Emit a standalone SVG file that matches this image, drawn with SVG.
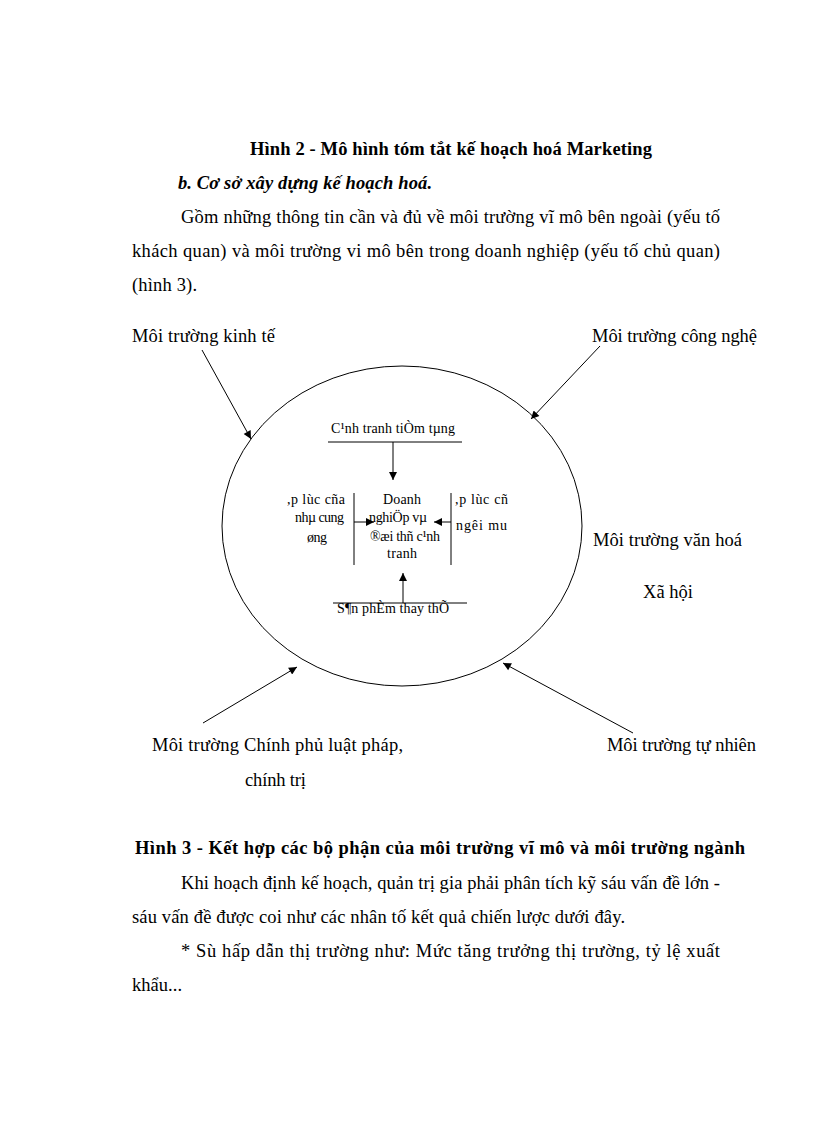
<svg xmlns="http://www.w3.org/2000/svg" width="816" height="1123" viewBox="0 0 816 1123">
<defs>
<marker id="ah" viewBox="0 0 10 10" refX="10" refY="5" markerWidth="9" markerHeight="8" markerUnits="userSpaceOnUse" orient="auto">
<path d="M0,0 L10,5 L0,10 z" fill="#000"/>
</marker>
<style>
.t{font-family:"Liberation Serif","Times New Roman",serif;font-size:18.5px;fill:#000}
.b{font-weight:bold}
.bi{font-weight:bold;font-style:italic}
.s{font-family:"Liberation Serif","Times New Roman",serif;font-size:14px;fill:#000}
.ln{stroke:#000;stroke-width:1;fill:none}
</style>
</defs>
<rect width="816" height="1123" fill="#fff"/>
<g id="heading">
<text class="t b" x="250" y="155" textLength="402">Hình 2 - Mô hình tóm tắt kế hoạch hoá Marketing</text>
<text class="t bi" x="178" y="189" textLength="254">b. Cơ sở xây dựng kế hoạch hoá.</text>
<text class="t" x="181" y="223" textLength="539">Gồm những thông tin cần và đủ về môi trường vĩ mô bên ngoài (yếu tố</text>
<text class="t" x="132" y="257" textLength="588">khách quan) và môi trường vi mô bên trong doanh nghiệp (yếu tố chủ quan)</text>
<text class="t" x="132" y="291" textLength="65">(hình 3).</text>
</g>
<g id="ellipse-node">
<ellipse class="ln" cx="402" cy="526" rx="180" ry="160"/>
</g>
<g id="env-kinhte"><text class="t" x="132" y="342" textLength="143">Môi trường kinh tế</text></g>
<g id="env-congnghe"><text class="t" x="592" y="342" textLength="165">Môi trường công nghệ</text></g>
<g id="env-vanhoa">
<text class="t" x="593" y="546" textLength="149">Môi trường văn hoá</text>
<text class="t" x="643" y="598" textLength="50">Xã hội</text>
</g>
<g id="env-chinhphu">
<text class="t" x="152" y="751" textLength="251">Môi trường Chính phủ luật pháp,</text>
<text class="t" x="245" y="786" textLength="61">chính trị</text>
</g>
<g id="env-tunhien"><text class="t" x="607" y="751" textLength="149">Môi trường tự nhiên</text></g>
<g id="inner-top">
<text class="s" x="331" y="433" textLength="124">C¹nh tranh tiÒm tµng</text>
<line class="ln" x1="328" y1="442" x2="462" y2="442"/>
</g>
<g id="inner-left">
<text class="s" x="287" y="504" textLength="58">,p lùc cña</text>
<text class="s" x="295" y="522" textLength="49">nhµ cung</text>
<text class="s" x="307" y="542" textLength="20">øng</text>
<line class="ln" x1="354" y1="493" x2="354" y2="565"/>
</g>
<g id="inner-center">
<text class="s" x="383" y="504" textLength="38">Doanh</text>
<text class="s" x="369" y="522" textLength="58">nghiÖp vµ</text>
<text class="s" x="370" y="541" textLength="70">®æi thñ c¹nh</text>
<text class="s" x="387" y="558" textLength="30">tranh</text>
</g>
<g id="inner-right">
<text class="s" x="455" y="504" textLength="53">,p lùc cñ</text>
<text class="s" x="456" y="530" textLength="51">ngêi  mu</text>
<line class="ln" x1="451" y1="493" x2="451" y2="565"/>
</g>
<g id="inner-bottom">
<text class="s" x="337" y="613" textLength="112">S¶n phÈm thay thÕ</text>
<line class="ln" x1="333" y1="603" x2="467" y2="603"/>
</g>
<g id="connectors">
<line class="ln" x1="202" y1="350" x2="251" y2="439" marker-end="url(#ah)"/>
<line class="ln" x1="600" y1="346" x2="531" y2="419" marker-end="url(#ah)"/>
<line class="ln" x1="203" y1="723" x2="297" y2="667" marker-end="url(#ah)"/>
<line class="ln" x1="633" y1="733" x2="503" y2="663" marker-end="url(#ah)"/>
<line class="ln" x1="393" y1="442" x2="393" y2="480" marker-end="url(#ah)"/>
<line class="ln" x1="403" y1="603" x2="403" y2="573" marker-end="url(#ah)"/>
<line class="ln" x1="354" y1="522" x2="374" y2="522" marker-end="url(#ah)"/>
<line class="ln" x1="451" y1="522" x2="434" y2="522" marker-end="url(#ah)"/>
</g>
<g id="footer">
<text class="t b" x="135" y="854" textLength="610">Hình 3 - Kết hợp các bộ phận của môi trường vĩ mô và môi trường ngành</text>
<text class="t" x="181" y="889" textLength="539">Khi hoạch định kế hoạch, quản trị gia phải phân tích kỹ sáu vấn đề lớn -</text>
<text class="t" x="132" y="923" textLength="493">sáu vấn đề được coi như các nhân tố kết quả chiến lược dưới đây.</text>
<text class="t" x="181" y="957" textLength="539">* Sù hấp dẫn thị trường như: Mức tăng trưởng thị trường, tỷ lệ xuất</text>
<text class="t" x="132" y="991" textLength="50">khẩu...</text>
</g>
</svg>
